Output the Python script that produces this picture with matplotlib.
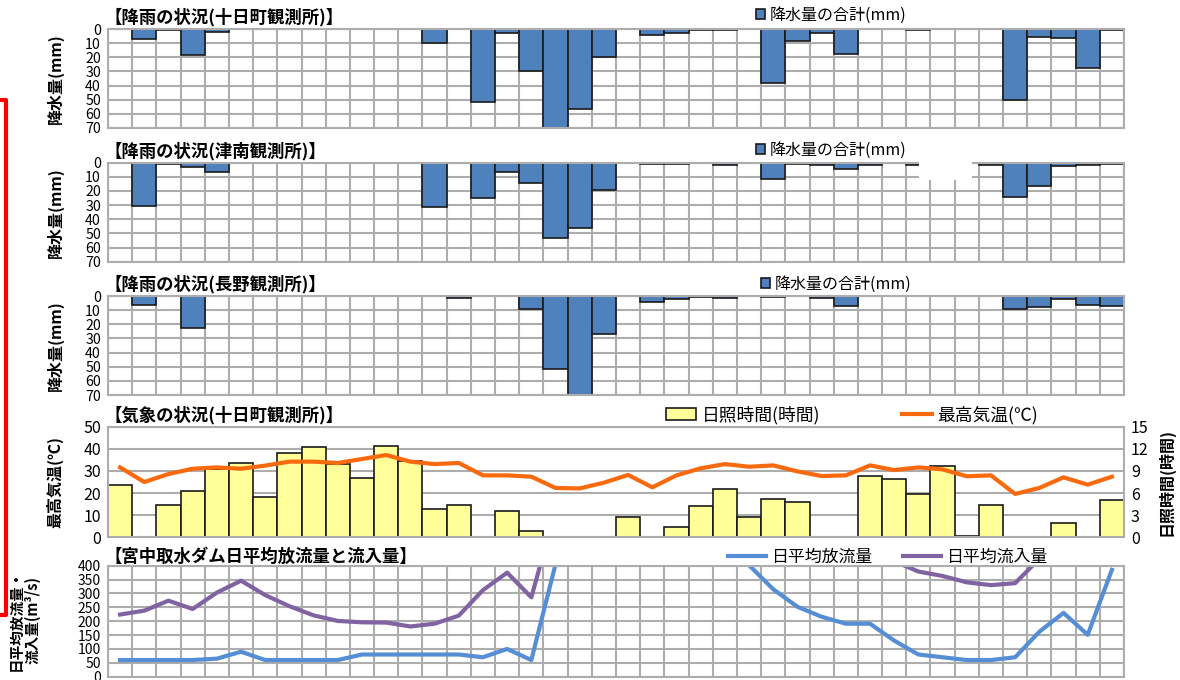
import numpy as np
import matplotlib.pyplot as plt
from matplotlib.patches import Patch, Rectangle
from matplotlib.lines import Line2D

plt.rcParams['font.family'] = ['Noto Sans CJK JP', 'DejaVu Sans']

# daily values, 42 days
days = np.arange(42)

# rainfall totals (mm) at each station
rain_tokamachi = [0, 7, 0.7, 18, 2, 0, 0, 0, 0, 0, 0, 0, 0, 9.5, 0,
                  51.5, 2.5, 29.5, 70, 56.5, 20, 0, 4.3, 2.4, 0.5, 0.5, 0, 38,
                  8, 2.4, 17.6, 0, 0, 0.5, 0, 0, 0, 50.5, 5.5, 6.4, 27.3, 0.5]
rain_tsunan = [0, 30.4, 1.2, 3.3, 6.8, 0, 0, 0, 0, 0, 0, 0, 0, 31.6, 0,
               24.8, 6.8, 14.4, 53.5, 46.5, 19, 0, 1.2, 0.7, 0.3, 1.6, 0, 11.6,
               0.7, 1.6, 4.5, 1.6, 0, 1.5, 0, 0, 1.6, 24.5, 16.3, 2.6, 1.6, 0.9]
rain_nagano = [0, 6.4, 0, 22.4, 0, 0, 0, 0, 0, 0, 0, 0, 0, 0, 1.4,
               0, 0, 9.4, 51.7, 76, 27, 0, 4.5, 2.4, 0.5, 1.6, 0, 0.5,
               0, 1.6, 7, 0, 0, 0, 0, 0, 0, 9.4, 8, 2.4, 6.1, 7]

# sunshine hours and max temperature at Tokamachi
sunshine = [7.1, 0, 4.4, 6.3, 9.2, 10.1, 5.4, 11.4, 12.2, 10.0, 8.1, 12.4, 10.3,
            3.9, 4.4, 0.1, 3.5, 0.8, 0, 0, 0, 2.8, 0, 1.4, 4.3, 6.6, 2.8, 5.2,
            4.8, 0.1, 0, 8.3, 7.9, 5.9, 9.7, 0.2, 4.4, 0, 0, 1.9, 0, 5.0]
max_temp = [31.6, 25, 28.6, 31, 31.6, 31, 32.4, 34.2, 34.2, 33.6, 35.4, 37.2,
            34.2, 33.1, 33.6, 28, 28, 27.4, 22.3, 22.1, 24.7, 28.2, 22.6, 28,
            31.2, 33.1, 31.9, 32.5, 29.8, 27.7, 28, 32.5, 30.4, 31.6, 30.7,
            27.6, 28, 19.6, 22.3, 27.1, 23.8, 27.4]

# Miyanaka intake dam, daily mean outflow / inflow (m3/s)
outflow = [60, 60, 60, 60, 65, 90, 60, 60, 60, 60, 80, 80, 80, 80, 80, 70, 100,
           60, 405, 620, 800, 900, 850, 700, 600, 480, 402, 315, 252, 216, 191,
           191, 130, 80, 70, 60, 60, 70, 162, 230, 151, 385]
inflow = [224, 238, 274, 244, 303, 346, 294, 254, 221, 201, 196, 195, 181, 191,
          220, 312, 375, 286, 600, 850, 1000, 1100, 1050, 900, 800, 700, 620,
          560, 500, 470, 440, 425, 416, 379, 363, 340, 330, 337, 425, 520, 560,
          600]

W, H = 1180, 680
fig = plt.figure(figsize=(W / 100, H / 100), dpi=100)

GRID = '#ADADAD'
TITLE_FS = 12.5


def px_axes(top, bottom):
    # axes spanning the day grid, given top/bottom in pixels from the top
    return fig.add_axes([108 / W, 1 - bottom / H, 1016 / W, (bottom - top) / H])


def style_grid(ax, fs):
    ax.set_xlim(0, 42)
    ax.set_xticks(np.arange(43))
    ax.set_xticklabels([])
    ax.grid(True, color=GRID, lw=1.5)
    ax.set_axisbelow(True)
    ax.tick_params(length=0, labelsize=fs, pad=5)
    for s in ax.spines.values():
        s.set_color(GRID)
        s.set_linewidth(1.5)


def fig_label(x, y, text, **kw):
    fig.text(x / W, 1 - y / H, text, **kw)


# ---- rainfall panels ----
rain_panels = [
    (rain_tokamachi, '【降雨の状況(十日町観測所)】', 29.3, 127.7, 831, 15),
    (rain_tsunan, '【降雨の状況(津南観測所)】', 162.7, 261.7, 831, 150),
    (rain_nagano, '【降雨の状況(長野観測所)】', 296, 395, 836, 284),
]
for vals, title, top, bot, lx, ly in rain_panels:
    ax = px_axes(top, bot)
    style_grid(ax, 10.2)
    vals = np.array(vals, dtype=float)
    wet = vals > 0
    ax.bar(days[wet], vals[wet], width=1, align='edge', color='#4F81BD',
           edgecolor='#1a1a1a', lw=1.2)
    ax.set_ylim(70, 0)
    ax.set_yticks(np.arange(0, 71, 10))
    fig_label(105, top - 12, title, fontsize=TITLE_FS, fontweight='bold',
              va='center')
    fig_label(55, (top + bot) / 2, '降水量(mm)', fontsize=11.5, fontweight='bold',
              rotation=90, ha='center', va='center')
    ax.legend(handles=[Patch(facecolor='#4F81BD', edgecolor='#1a1a1a', lw=1.2,
                             label='降水量の合計(mm)')],
              loc='center', bbox_to_anchor=(lx / W, 1 - ly / H),
              bbox_transform=fig.transFigure, frameon=False, fontsize=11.5,
              handlelength=0.55, handleheight=0.55, handletextpad=0.3,
              borderpad=0)

# ---- weather panel: sunshine bars (right) and max temperature (left) ----
ax_t = px_axes(426.7, 537.3)
ax_s = ax_t.twinx()
style_grid(ax_s, 11.5)
ax_t.set_xlim(0, 42)
ax_t.tick_params(length=0, labelsize=11.5, pad=5)
ax_t.set_xticks([])
for s in ax_t.spines.values():
    s.set_visible(False)

ax_s.bar(days, sunshine, width=1, align='edge', color='#FFFF99',
         edgecolor='#1a1a1a', lw=1.2)
ax_s.set_ylim(0, 15)
ax_s.set_yticks(np.arange(0, 16, 3))

ax_t.plot(days + 0.5, max_temp, color='#F96A0E', lw=3)
ax_t.set_ylim(0, 50)
ax_t.set_yticks(np.arange(0, 51, 10))
ax_t.set_zorder(ax_s.get_zorder() + 1)
ax_t.patch.set_visible(False)

fig_label(105, 415, '【気象の状況(十日町観測所)】', fontsize=TITLE_FS,
          fontweight='bold', va='center')
fig_label(55, 482, '最高気温(℃)', fontsize=11.5, fontweight='bold',
          rotation=90, ha='center', va='center')
fig_label(1166, 482, '日照時間(時間)', fontsize=11.5, fontweight='bold',
          rotation=90, ha='center', va='center')
ax_t.legend(handles=[Patch(facecolor='#FFFF99', edgecolor='#1a1a1a', lw=1.2,
                           label='日照時間(時間)'),
                     Line2D([], [], color='#F96A0E', lw=3, label='最高気温(℃)')],
            loc='center', bbox_to_anchor=(852 / W, 1 - 415 / H),
            bbox_transform=fig.transFigure, frameon=False, fontsize=12.8,
            ncol=2, handlelength=1.7, handleheight=0.65, handletextpad=0.3,
            columnspacing=4.6, borderpad=0)

# ---- dam discharge panel ----
ax_q = px_axes(565.7, 676.7)
style_grid(ax_q, 10)
ax_q.plot(days + 0.5, outflow, color='#558ED5', lw=3, label='日平均放流量')
ax_q.plot(days + 0.5, inflow, color='#8064A2', lw=3, label='日平均流入量')
ax_q.set_ylim(0, 400)
ax_q.set_yticks(np.arange(0, 401, 50))
fig_label(105, 557, '【宮中取水ダム日平均放流量と流入量】', fontsize=TITLE_FS,
          fontweight='bold', va='center')
fig_label(24, 620, '日平均放流量・\n流入量(m³/s)', fontsize=10.5,
          fontweight='bold', rotation=90, ha='center', va='center',
          multialignment='center', linespacing=1.1)
ax_q.legend(loc='center', bbox_to_anchor=(888 / W, 1 - 557 / H),
            bbox_transform=fig.transFigure, frameon=False, fontsize=12.2,
            ncol=2, handlelength=2.2, handletextpad=0.35, columnspacing=1.8,
            borderpad=0)

# red bracket on the left edge
fig.add_artist(Line2D([0, 6 / W, 6 / W, 0],
                      [1 - 100 / H, 1 - 100 / H, 1 - 615 / H, 1 - 615 / H],
                      color='#FF0000', lw=3, transform=fig.transFigure))
# blank patch over the Tsunan grid
fig.add_artist(Rectangle((919 / W, 1 - 180 / H), 53 / W, 21 / H,
                         facecolor='white', edgecolor='none', zorder=20,
                         transform=fig.transFigure))

fig.savefig('out.png', dpi=100)
